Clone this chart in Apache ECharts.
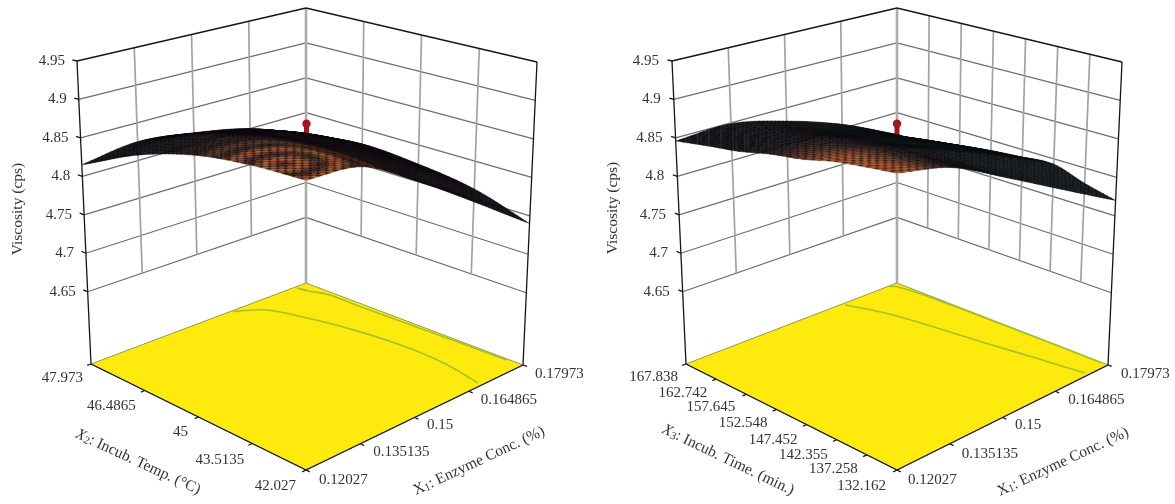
<!DOCTYPE html>
<html><head><meta charset="utf-8">
<style>html,body{margin:0;padding:0;background:#fff}#c{width:1175px;height:504px}</style>
<script src="https://cdn.jsdelivr.net/npm/echarts@6/dist/echarts.min.js"></script>
</head><body><div id="c"></div>
<script>
// ---------- chart values ----------
const X1_TICKS = [0.12027, 0.135135, 0.15, 0.164865, 0.17973];
const X1_LABELS = ['0.12027', '0.135135', '0.15', '0.164865', '0.17973'];
const X2_TICKS = [42.027, 43.5135, 45, 46.4865, 47.973];
const X2_LABELS = ['42.027', '43.5135', '45', '46.4865', '47.973'];
const X3_TICKS = [132.162, 137.258, 142.355, 147.452, 152.548, 157.645, 162.742, 167.838];
const X3_LABELS = ['132.162', '137.258', '142.355', '147.452', '152.548', '157.645', '162.742', '167.838'];
const Z_TICKS = [4.65, 4.7, 4.75, 4.8, 4.85, 4.9, 4.95];
const Z_LABELS = ['4.65', '4.7', '4.75', '4.8', '4.85', '4.9', '4.95'];
const Z_FLOOR = 4.556;
// viscosity: one row per second-factor tick, one column per X1 tick
const VISCOSITY_TEMP = [
  [4.884, 4.880, 4.841, 4.793, 4.740],
  [4.882, 4.881, 4.850, 4.811, 4.763],
  [4.873, 4.875, 4.850, 4.817, 4.774],
  [4.851, 4.857, 4.840, 4.816, 4.779],
  [4.815, 4.825, 4.816, 4.800, 4.769]
];
const VISCOSITY_TIME = [
  [4.892, 4.879, 4.846, 4.809, 4.770],
  [4.888, 4.879, 4.850, 4.817, 4.780],
  [4.883, 4.879, 4.856, 4.827, 4.793],
  [4.874, 4.873, 4.851, 4.823, 4.790],
  [4.868, 4.868, 4.847, 4.820, 4.786],
  [4.859, 4.860, 4.841, 4.815, 4.780],
  [4.853, 4.854, 4.835, 4.808, 4.771],
  [4.846, 4.849, 4.832, 4.806, 4.769]
];
const DESIGN_POINT_Z = 4.875;
// contour traces on the floor, [X1, second factor]
const CONTOUR_TEMP_INNER = [[0.1592,47.93],[0.1646,47.54],[0.1674,46.74],[0.1696,45.74],[0.1709,44.50],[0.1706,43.29],[0.1686,42.15]];
const CONTOUR_TEMP_OUTER = [[0.1766,47.91],[0.1771,47.68],[0.1787,47.21],[0.1786,46.44],[0.1791,44.41],[0.1793,42.44]];
const CONTOUR_TIME_INNER = [[0.1644,167.41],[0.1674,162.45],[0.1689,157.81],[0.1711,147.75],[0.1728,140.33],[0.1743,132.80]];
const CONTOUR_TIME_OUTER = [[0.1774,167.838],[0.1784,167.02],[0.1791,163.91],[0.1794,157.13],[0.1796,144.65],[0.1796,133.23]];

// ---------- panel layout (box corners + label styling) ----------
const PANELS = [
 { table: VISCOSITY_TEMP, vTicks: X2_TICKS, vLabels: X2_LABELS, inner: CONTOUR_TEMP_INNER, outer: CONTOUR_TEMP_OUTER, rings:true,
   cam: {front:[306,470], right:[523,365], left:[91,364], back:[306,283], frontTop:[306,122], backTop:[306,8], leftTop:[77,61], rightTop:[537,62]},
   vOff: [[-10,16],[-8,16.5],[-10.5,15],[-9,15.5],[-8,14]], uOff: [[13,10],[13,8],[12.5,7.5],[12,9],[12,9]],
   vTitle: {t:'{i|X}{s|2}{n|: Incub. Temp. (°C)}', x:138, y:462, r:-25},
   uTitle: {t:'{n|X}{s|1}{n|: Enzyme Conc. (%)}', x:479, y:461, r:25},
   zTitle: {x:18, y:209}, zDx:-12, sub:[14,14] },
 { table: VISCOSITY_TIME, vTicks: X3_TICKS, vLabels: X3_LABELS, inner: CONTOUR_TIME_INNER, outer: CONTOUR_TIME_OUTER, rings:false,
   cam: {front:[897,470], right:[1108,365], left:[686,364], back:[897,283], frontTop:[897,122], backTop:[897,8], leftTop:[672,61], rightTop:[1122,62]},
   vOff: [[-11,16],[-9,14],[-9,15],[-9,15],[-9,14],[-11,13],[-9,14],[-8,13]], uOff: [[11,10],[12,10],[12.5,8],[13,9],[13,9]],
   vTitle: {t:'{i|X}{s|3}{n|: Incub. Time. (min.)}', x:728, y:460, r:-25.7},
   uTitle: {t:'{n|X}{s|1}{n|: Enzyme Conc. (%)}', x:1063, y:462, r:25},
   zTitle: {x:613, y:208}, zDx:-13, sub:[14,8] }
];
const FONT = '"Liberation Serif", serif';
const TXT = '#333';

function boxMap(c){
  const lerp=(a,b,t)=>[a[0]+(b[0]-a[0])*t,a[1]+(b[1]-a[1])*t];
  const bil=(p00,p10,p01,p11,u,v)=>lerp(lerp(p00,p10,u),lerp(p01,p11,u),v);
  return (U,V,W)=>lerp(bil(c.front,c.right,c.left,c.back,U,V),bil(c.frontTop,c.rightTop,c.leftTop,c.backTop,U,V),W);
}
const uOf=x=>(x-X1_TICKS[0])/(X1_TICKS[4]-X1_TICKS[0]);
const wOf=z=>(z-Z_FLOOR)/(Z_TICKS[6]-Z_FLOOR);
function cr(a,b,c,d,t){return 0.5*(2*b+(c-a)*t+(2*a-5*b+4*c-d)*t*t+(3*b-a-3*c+d)*t*t*t);}
function surfaceFn(T){
  const R=T.length,C=T[0].length;
  const g=(r,c)=>{
    const rr=Math.min(R-1,Math.max(0,r)),cc=Math.min(C-1,Math.max(0,c));
    let v=T[rr][cc];
    if(r<0)v+=T[0][cc]-T[1][cc]; if(r>R-1)v+=T[R-1][cc]-T[R-2][cc];
    if(c<0)v+=T[rr][0]-T[rr][1]; if(c>C-1)v+=T[rr][C-1]-T[rr][C-2];
    return v;};
  return (u,v)=>{
    const fc=u*(C-1),fr=v*(R-1),c=Math.min(C-2,Math.floor(fc)),r=Math.min(R-2,Math.floor(fr)),tc=fc-c,tr=fr-r;
    const q=[];
    for(let i=-1;i<=2;i++) q.push(cr(g(r+i,c-1),g(r+i,c),g(r+i,c+1),g(r+i,c+2),tc));
    return cr(q[0],q[1],q[2],q[3],tr);
  };
}
function hex(m){return 'rgb('+m.map(v=>Math.round(Math.max(0,Math.min(255,v)))).join(',')+')';}
function mix(a,b,t){return a.map((v,i)=>v+(b[i]-v)*t);}
const sstep=(a,b,x)=>{const t=Math.max(0,Math.min(1,(x-a)/(b-a)));return t*t*(3-2*t);};

const series=[];
PANELS.forEach(P=>{
  const proj=boxMap(P.cam), VT=P.vTicks, vOf=x=>(x-VT[0])/(VT[VT.length-1]-VT[0]);
  const surf=surfaceFn(P.table);
  const base={type:'custom',coordinateSystem:'cartesian2d',silent:true,animation:false,clip:false};
  const pc=(api,U,V,W)=>api.coord(proj(U,V,W));

  const wallItems=[];
  Z_TICKS.forEach(z=>{ if(z<4.95){wallItems.push(['zl',z]);wallItems.push(['zr',z]);} });
  X1_TICKS.slice(1,4).forEach(x=>wallItems.push(['vl',x]));
  VT.slice(1,VT.length-1).forEach(x=>wallItems.push(['vr',x]));
  wallItems.push(['corner',0]);
  series.push(Object.assign({},base,{name:'walls',data:wallItems.map((_, i)=>i),z:1,renderItem(params,api){
    const it=wallItems[params.dataIndex],k=it[0],val=it[1];let a,b,col,lw;
    if(k==='zl'){a=pc(api,0,1,wOf(val));b=pc(api,1,1,wOf(val));col='#6e6e6e';lw=1.2;}
    else if(k==='zr'){a=pc(api,1,1,wOf(val));b=pc(api,1,0,wOf(val));col='#6e6e6e';lw=1.2;}
    else if(k==='vl'){a=pc(api,uOf(val),1,1);b=pc(api,uOf(val),1,wOf(4.65));col='#a2a2a2';lw=1.7;}
    else if(k==='vr'){a=pc(api,1,vOf(val),1);b=pc(api,1,vOf(val),wOf(4.65));col='#a2a2a2';lw=1.7;}
    else {a=pc(api,1,1,1);b=pc(api,1,1,0);col='#adadad';lw=2.6;}
    return {type:'line',shape:{x1:a[0],y1:a[1],x2:b[0],y2:b[1]},style:{stroke:col,lineWidth:lw}};
  }}));

  series.push(Object.assign({},base,{name:'floor',data:[0],z:2,renderItem(params,api){
    const pts=[pc(api,0,0,0),pc(api,1,0,0),pc(api,1,1,0),pc(api,0,1,0)];
    return {type:'polygon',shape:{points:pts},style:{fill:'#ffea0e',stroke:'#8f9a55',lineWidth:1}};
  }}));
  [P.inner,P.outer].forEach(tr=>{
    series.push(Object.assign({},base,{name:'contour',data:[0],z:3,renderItem(params,api){
      const pts=tr.map(d=>pc(api,uOf(d[0]),vOf(d[1]),0));
      return {type:'polyline',shape:{points:pts,smooth:0.3},style:{stroke:'#a4c226',lineWidth:1.6,fill:null}};
    }}));
  });
  const frame=[[0,0,0,1,0,0],[0,0,0,0,1,0],[0,1,0,0,1,1],[1,0,0,1,0,1],[0,1,1,1,1,1],[1,1,1,1,0,1]];
  X1_TICKS.forEach(x=>frame.push([uOf(x),0,0,uOf(x),-0.018,0]));
  VT.forEach(x=>frame.push([0,vOf(x),0,-0.018,vOf(x),0]));
  Z_TICKS.forEach(z=>frame.push([0,1,wOf(z),0,1.02,wOf(z)]));
  series.push(Object.assign({},base,{name:'frame',data:frame.map((_, i)=>i),z:4,renderItem(params,api){
    const f=frame[params.dataIndex],a=pc(api,f[0],f[1],f[2]),b=pc(api,f[3],f[4],f[5]);
    return {type:'line',shape:{x1:a[0],y1:a[1],x2:b[0],y2:b[1]},style:{stroke:'#151515',lineWidth:1.3}};
  }}));
  series.push(Object.assign({},base,{name:'design point',data:[DESIGN_POINT_Z],z:5,renderItem(params,api){
    const t=pc(api,.5,.5,wOf(DESIGN_POINT_Z)),b=pc(api,.5,.5,wOf(surf(.5,.5)));
    return {type:'group',children:[
      {type:'line',shape:{x1:t[0],y1:t[1],x2:b[0],y2:b[1]},style:{stroke:'#a4161f',lineWidth:5}},
      {type:'circle',shape:{cx:t[0],cy:t[1]+2,r:4.2},style:{fill:'#a4161f'}}]};
  }}));
  const rowsN=P.table.length-1,colsN=P.table[0].length-1,cells=[];
  for(let r=rowsN-1;r>=0;r--)for(let c=colsN-1;c>=0;c--)cells.push([r,c]);
  const su=P.sub[0],sv=P.sub[1];
  series.push(Object.assign({},base,{name:'surface',data:cells.map((_, i)=>i),z:6,renderItem(params,api){
    const [r,c]=cells[params.dataIndex],kids=[];
    for(let j=sv-1;j>=0;j--)for(let i=su-1;i>=0;i--){
      const u0=(c+i/su)/colsN,u1=(c+(i+1)/su)/colsN,v0=(r+j/sv)/rowsN,v1=(r+(j+1)/sv)/rowsN;
      const um=(u0+u1)/2,vm=(v0+v1)/2;
      const pts=[[u0,v0],[u1,v0],[u1,v1],[u0,v1]].map(q=>pc(api,q[0],q[1],wOf(surf(q[0],q[1]))));
      const chk=((c*su+i)+(r*sv+j))%2===0?1:0.3;
      let hot,ring,cool;
      if(P.rings){
        const d=Math.hypot((um-.07)*1.0,(vm-.17)*1.0);
        hot=1-sstep(.12,.5,d);
        ring=.58-.42*Math.cos(d*55);
        cool=[60,36,24];
      }else{
        hot=(1-sstep(.06,.3,um))*(1-sstep(.28,.72,vm));
        ring=1;
        cool=um>.45?[38,78,50]:[58,38,28];
      }
      const lit=mix(cool,[186,88,44],hot);
      const col=hex(mix([9,9,14],lit,(0.17+0.83*hot*ring)*chk));
      kids.push({type:'polygon',shape:{points:pts},style:{fill:col,stroke:col,lineWidth:0.35}});
    }
    return {type:'group',children:kids};
  }}));

  const rich={n:{fontFamily:FONT,fontSize:15.5,fill:TXT},i:{fontFamily:FONT,fontSize:15.5,fontStyle:'italic',fill:TXT},s:{fontFamily:FONT,fontSize:11,fill:TXT,verticalAlign:'bottom',lineHeight:12}};
  const tick=(text,pos,align)=>({type:'text',x:pos[0],y:pos[1],style:{text,align,verticalAlign:'middle',fontFamily:FONT,fontSize:15,fill:TXT}});
  const texts=[];
  Z_TICKS.forEach((z,i)=>texts.push(['z',i]));
  VT.forEach((x,i)=>texts.push(['v',i]));
  X1_TICKS.forEach((x,i)=>texts.push(['u',i]));
  ['vt','ut','zt'].forEach(k=>texts.push([k,0]));
  series.push(Object.assign({},base,{name:'labels',data:texts.map((_, i)=>i),z:7,renderItem(params,api){
    const [k,i]=texts[params.dataIndex];
    if(k==='z'){const p=pc(api,0,1,wOf(Z_TICKS[i]));return tick(Z_LABELS[i],[p[0]+P.zDx,p[1]],'right');}
    if(k==='v'){const p=pc(api,0,vOf(VT[i]),0),o=P.vOff[i];return tick(P.vLabels[i],[p[0]+o[0],p[1]+o[1]],'right');}
    if(k==='u'){const p=pc(api,uOf(X1_TICKS[i]),0,0),o=P.uOff[i];return tick(X1_LABELS[i],[p[0]+o[0],p[1]+o[1]],'left');}
    const tt=k==='vt'?P.vTitle:k==='ut'?P.uTitle:{t:'{n|Viscosity (cps)}',x:P.zTitle.x,y:P.zTitle.y,r:90};
    const c=api.coord([tt.x,tt.y]);
    return {type:'text',x:c[0],y:c[1],rotation:tt.r*Math.PI/180,style:{text:tt.t,rich,align:'center',verticalAlign:'middle',fontFamily:FONT,fontSize:15.5,fill:TXT}};
  }}));
});

const chart=echarts.init(document.getElementById('c'),null,{renderer:'canvas'});
chart.setOption({
  backgroundColor:'#ffffff',animation:false,tooltip:{show:false},
  grid:{left:0,right:0,top:0,bottom:0,containLabel:false},
  xAxis:{type:'value',min:0,max:1175,show:false},
  yAxis:{type:'value',min:0,max:504,inverse:true,show:false},
  series
});
</script></body></html>
